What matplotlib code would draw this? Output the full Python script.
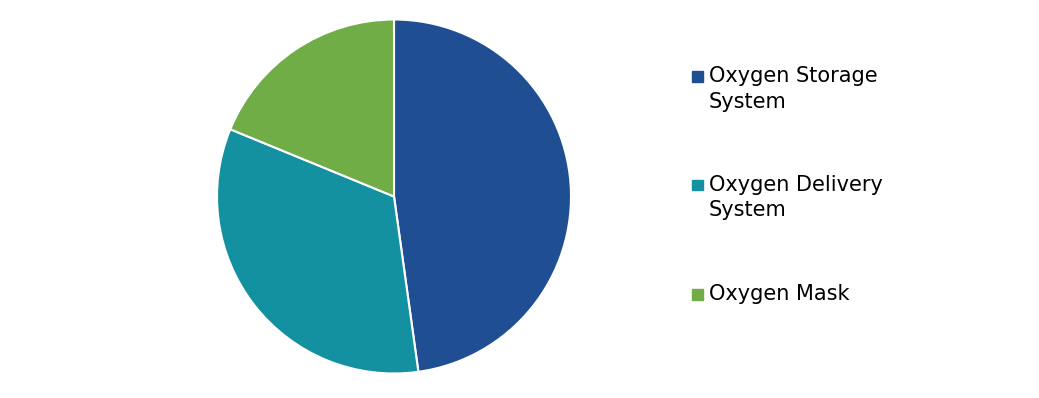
import matplotlib.pyplot as plt
from matplotlib.patches import Rectangle

# datos del gráfico
labels = ["Oxygen Storage\nSystem", "Oxygen Delivery\nSystem", "Oxygen Mask"]
shares = [47.8, 33.4, 18.8]
colors = ["#1F4E93", "#1391A0", "#70AD47"]

W, H = 1039, 398
fig = plt.figure(figsize=(W / 100, H / 100), dpi=100)

# eje del pastel: centro (394, 196.5), radio 177 px
cx, cy, r = 394, 196.5, 177
ax = fig.add_axes([(cx - r) / W, (H - cy - r) / H, 2 * r / W, 2 * r / H])
ax.pie(shares, colors=colors, startangle=90, counterclock=False,
       wedgeprops=dict(edgecolor="white", linewidth=1.5))
ax.set_xlim(-1, 1)
ax.set_ylim(-1, 1)
ax.axis("off")

# leyenda manual (cuadrado alineado con la primera línea)
y_centers = [76.5, 185, 294]
for lab, col, yc in zip(labels, colors, y_centers):
    fig.patches.append(Rectangle((692 / W, 1 - (yc + 5.5) / H), 11 / W, 11 / H,
                                 transform=fig.transFigure, color=col, figure=fig))
    n_extra = lab.count("\n")
    base = yc + 6 + 25 * n_extra  # baseline de la última línea
    fig.text(709 / W, 1 - base / H, lab, fontsize=15, va="baseline",
             ha="left", linespacing=1.33, color="black")

fig.savefig("out.png", dpi=100)
